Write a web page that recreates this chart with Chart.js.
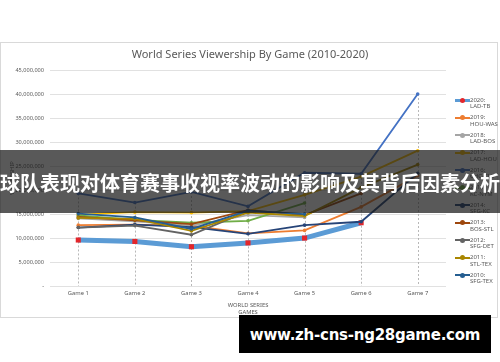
<!DOCTYPE html>
<html>
<head>
<meta charset="utf-8">
<script src="https://cdn.jsdelivr.net/npm/chart.js@4.4.1/dist/chart.umd.min.js"></script>
<style>
  html, body { margin: 0; padding: 0; background: #fff; }
  #wrap { position: relative; width: 500px; height: 362px; overflow: hidden; font-family: "Noto Sans", sans-serif; }
  #card { position: absolute; left: 0; top: 42px; width: 498px; height: 276px; border: 1px solid #d9d9d9; box-sizing: border-box; }
  #chart { position: absolute; left: 0; top: 0; }
  #legend { position: absolute; left: 0; top: 0; }
  .item { position: absolute; left: 455px; }
  .swatch { position: absolute; left: 0; width: 15px; height: 2px; }
  .dot { position: absolute; left: 5px; width: 5px; height: 5px; border-radius: 50%; }
  .txt { position: absolute; left: 15px; top: 0; font-size: 6px; line-height: 6.5px; color: #595959; white-space: nowrap; }
  #banner { position: absolute; left: 0; top: 150px; width: 500px; height: 63px; background: rgba(25, 25, 25, 0.72);
    color: #fff; font: bold 20px "Noto Sans CJK SC", sans-serif; text-align: center; line-height: 66px; white-space: nowrap; }
  #mark { position: absolute; left: 239px; top: 315px; width: 252px; height: 38px; background: #000; color: #fff;
    font: bold 15px "DejaVu Sans", sans-serif; letter-spacing: -0.25px; line-height: 40px; text-align: center; white-space: nowrap; }
</style>
</head>
<body>
<div id="wrap">
  <div id="card"></div>
  <canvas id="chart" width="500" height="362"></canvas>
  <div id="legend"></div>
  <div id="banner">球队表现对体育赛事收视率波动的影响及其背后因素分析</div>
  <div id="mark">www.zh-cns-ng28game.com</div>
</div>
<script>
Chart.defaults.devicePixelRatio = 1;
Chart.defaults.font.family = '"Noto Sans", sans-serif';

const games = ["Game 1", "Game 2", "Game 3", "Game 4", "Game 5", "Game 6", "Game 7"];
const yTicks = [0, 5, 10, 15, 20, 25, 30, 35, 40, 45]; // millions

// viewers per game, millions
const v2010 = [15.1, 14.3, 11.9, 15.7, 15.0];
const v2011 = [14.2, 14.0, 11.5, 15.3, 14.6, 20.5, 25.3];
const v2012 = [12.2, 12.6, 10.7, 15.6];
const v2013 = [14.4, 13.7, 12.9, 15.8, 14.8, 19.3];
const v2014 = [12.2, 12.8, 12.3, 10.9, 12.7, 13.4, 23.5];
const v2015 = [14.7, 13.8, 13.2, 13.6, 17.3];
const v2016 = [19.3, 17.4, 19.6, 16.6, 23.6, 23.4, 40.0];
const v2017 = [14.9, 15.4, 15.3, 15.6, 19.0, 22.8, 28.2];
const v2018 = [14.1, 13.5, 12.6, 14.8, 14.3];
const v2019 = [12.7, 12.8, 12.6, 11.0, 11.6, 16.5, 23.0];
const v2020 = [9.6, 9.3, 8.2, 9.0, 10.0, 13.2];

const years = ["2010", "2011", "2012", "2013", "2014", "2015", "2016", "2017", "2018", "2019", "2020"];
const matchups = ["SFG-TEX", "STL-TEX", "SFG-DET", "BOS-STL", "SFG-KC", "KC-NYM", "CHC-CLE", "LAD-HOU", "LAD-BOS", "HOU-WAS", "LAD-TB"];
const values = [v2010, v2011, v2012, v2013, v2014, v2015, v2016, v2017, v2018, v2019, v2020];
const colors = ["#255e91", "#a98600", "#636363", "#9e480e", "#264478", "#70ad47", "#4472c4", "#ffc000", "#a5a5a5", "#ed7d31", "#5b9bd5"];
const markerRed = "#e3262b";

const datasets = years.map((yr, i) => {
  const last = yr === "2020";
  return {
    label: yr + ": " + matchups[i],
    data: values[i],
    borderColor: colors[i],
    backgroundColor: last ? markerRed : colors[i],
    borderWidth: last ? 5 : 1.8,
    pointStyle: last ? "rect" : "circle",
    pointRadius: last ? 3.6 : 1.8,
    pointBorderWidth: 0,
    tension: 0,
    fill: false,
  };
});

// Excel-style drop lines from the highest point down to the axis
const dropLines = {
  id: "dropLines",
  beforeDatasetsDraw(chart) {
    const { ctx, scales: { x, y }, chartArea } = chart;
    ctx.save();
    ctx.strokeStyle = "#a6a6a6";
    ctx.lineWidth = 0.8;
    ctx.setLineDash([2, 2]);
    games.forEach((g, i) => {
      const vals = values.map((s) => s[i]).filter((v) => v !== undefined);
      if (!vals.length) return;
      const px = Math.round(x.getPixelForValue(i)) + 0.5;
      ctx.beginPath();
      ctx.moveTo(px, y.getPixelForValue(Math.max(...vals)));
      ctx.lineTo(px, chartArea.bottom);
      ctx.stroke();
    });
    ctx.restore();
  },
};

new Chart(document.getElementById("chart").getContext("2d"), {
  type: "line",
  data: { labels: games, datasets },
  plugins: [dropLines],
  options: {
    responsive: false,
    maintainAspectRatio: false,
    animation: false,
    layout: { padding: { left: 0, right: 0, top: 0, bottom: 46 } },
    plugins: {
      legend: { display: false },
      tooltip: { enabled: false },
      title: {
        display: true,
        text: "World Series Viewership By Game (2010-2020)",
        color: "#595959",
        font: { size: 11, weight: "normal" },
        padding: { top: 48.4, bottom: 8.4 },
      },
    },
    scales: {
      x: {
        offset: true,
        grid: { display: false, drawTicks: false },
        border: { display: false },
        ticks: { color: "#595959", font: { size: 5.8 }, padding: 4 },
        title: { display: true, text: ["WORLD SERIES", "GAMES"], color: "#595959", font: { size: 5.8 }, padding: { top: 1, bottom: 0 } },
      },
      y: {
        min: 0,
        max: 45,
        afterBuildTicks(scale) {
          scale.ticks = yTicks.map((v) => ({ value: v }));
        },
        afterFit(scale) {
          scale.width = 50;
        },
        grid: { color: "#d9d9d9", drawTicks: false, lineWidth: 0.8 },
        border: { display: false },
        ticks: {
          color: "#595959",
          font: { size: 5.6 },
          padding: 6,
          callback: (v) => (v === 0 ? "-" : (v * 1000000).toLocaleString("en-US")),
        },
        title: { display: true, text: "VIEWERSHIP", color: "#595959", font: { size: 5.8 }, padding: { top: 8.7, bottom: 0 } },
      },
      // empty right-hand axis keeps room for the legend
      side: {
        position: "right",
        min: 0,
        max: 45,
        grid: { display: false },
        border: { display: false },
        ticks: { display: false },
        afterFit(scale) {
          scale.width = 54;
        },
      },
    },
  },
});

// legend, newest season first
const legend = document.getElementById("legend");
years.slice().reverse().forEach((yr, k) => {
  const i = years.length - 1 - k;
  const top = 100 + k * 17.5;
  const item = document.createElement("div");
  item.className = "item";
  item.style.top = top - 3.25 + "px";
  const sw = document.createElement("div");
  sw.className = "swatch";
  sw.style.top = 2.25 + "px";
  sw.style.background = colors[i];
  if (yr === "2020") { sw.style.height = "3px"; sw.style.top = "1.75px"; }
  const dot = document.createElement("div");
  dot.className = "dot";
  dot.style.top = 0.75 + "px";
  dot.style.background = yr === "2020" ? markerRed : colors[i];
  const txt = document.createElement("div");
  txt.className = "txt";
  txt.innerHTML = yr + ":<br>" + matchups[i];
  item.append(sw, dot, txt);
  legend.appendChild(item);
});
</script>
</body>
</html>
